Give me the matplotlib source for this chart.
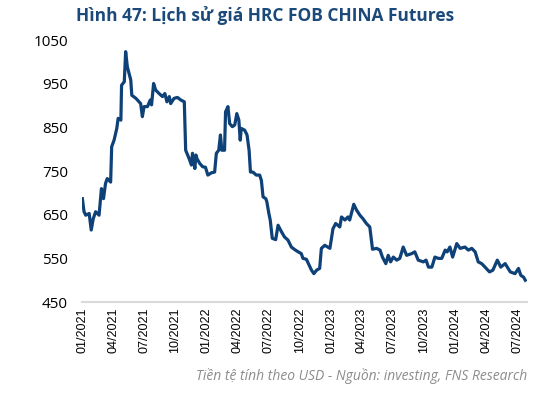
import pandas as pd
import matplotlib
matplotlib.use('Agg')
import matplotlib.pyplot as plt
import matplotlib.dates as mdates

# values (USD)
dates = [
    '2021-01-01', '2021-01-06', '2021-01-11', '2021-01-21', '2021-01-27', '2021-02-02',
    '2021-02-09', '2021-02-19', '2021-02-26', '2021-03-04', '2021-03-10', '2021-03-15',
    '2021-03-25', '2021-03-28', '2021-04-04', '2021-04-12', '2021-04-16', '2021-04-24',
    '2021-04-26', '2021-05-04', '2021-05-08', '2021-05-13', '2021-05-18', '2021-05-23',
    '2021-05-26', '2021-06-07', '2021-06-21', '2021-06-26', '2021-07-01', '2021-07-11',
    '2021-07-19', '2021-07-23', '2021-07-29', '2021-08-04', '2021-08-14', '2021-08-24',
    '2021-08-31', '2021-09-06', '2021-09-13', '2021-09-17', '2021-09-27', '2021-10-07',
    '2021-10-17', '2021-10-27', '2021-10-31', '2021-11-10', '2021-11-17', '2021-11-20',
    '2021-11-27', '2021-11-30', '2021-12-03', '2021-12-11', '2021-12-20', '2021-12-28',
    '2022-01-04', '2022-01-14', '2022-01-24', '2022-01-29', '2022-02-05', '2022-02-10',
    '2022-02-14', '2022-02-22', '2022-02-25', '2022-03-04', '2022-03-09', '2022-03-17',
    '2022-03-24', '2022-03-30', '2022-04-05', '2022-04-09', '2022-04-12', '2022-04-22',
    '2022-04-29', '2022-05-05', '2022-05-09', '2022-05-16', '2022-05-26', '2022-06-05',
    '2022-06-10', '2022-06-15', '2022-06-23', '2022-06-26', '2022-07-02', '2022-07-06',
    '2022-07-12', '2022-07-22', '2022-07-29', '2022-08-08', '2022-08-17', '2022-08-27',
    '2022-09-06', '2022-09-16', '2022-09-26', '2022-10-05', '2022-10-10', '2022-10-20',
    '2022-11-04', '2022-11-11', '2022-11-19', '2022-11-28', '2022-12-03', '2022-12-13',
    '2022-12-28', '2023-01-06', '2023-01-14', '2023-01-26', '2023-01-31', '2023-02-10',
    '2023-02-19', '2023-02-24', '2023-03-08', '2023-03-16', '2023-03-26', '2023-04-04',
    '2023-04-14', '2023-04-24', '2023-05-02', '2023-05-14', '2023-05-24', '2023-05-31',
    '2023-06-10', '2023-06-17', '2023-06-24', '2023-07-02', '2023-07-12', '2023-07-21',
    '2023-07-31', '2023-08-10', '2023-08-25', '2023-09-03', '2023-09-13', '2023-09-28',
    '2023-10-06', '2023-10-13', '2023-10-23', '2023-11-01', '2023-11-11', '2023-11-21',
    '2023-12-01', '2023-12-07', '2023-12-15', '2023-12-23', '2024-01-04', '2024-01-14',
    '2024-01-28', '2024-02-07', '2024-02-17', '2024-02-27', '2024-03-07', '2024-03-17',
    '2024-03-27', '2024-04-09', '2024-04-19', '2024-05-02', '2024-05-12', '2024-05-25',
    '2024-06-09', '2024-06-23', '2024-07-03', '2024-07-10', '2024-07-18', '2024-07-23',
]
prices = [
    687, 657, 649, 653, 615, 641,
    657, 649, 710, 687, 722, 733,
    725, 806, 821, 848, 871, 867,
    947, 955, 1024, 989, 974, 959,
    924, 917, 905, 875, 898, 898,
    913, 902, 951, 936, 928, 921,
    928, 909, 921, 905, 917, 919,
    913, 909, 798, 779, 764, 791,
    756, 787, 779, 768, 760, 759,
    741, 746, 748, 791, 798, 833,
    798, 798, 886, 898, 859, 852,
    856, 882, 867, 821, 848, 844,
    833, 798, 748, 748, 741, 741,
    729, 691, 687, 680, 653, 638,
    596, 593, 626, 611, 599, 592,
    576, 570, 565, 561, 550, 548,
    523, 515, 523, 527, 573, 580,
    573, 618, 630, 622, 645, 638,
    645, 638, 674, 661, 649, 641,
    630, 622, 571, 573, 569, 553,
    538, 557, 542, 553, 546, 550,
    576, 557, 561, 565, 546, 542,
    546, 530, 530, 553, 550, 550,
    569, 565, 576, 553, 584, 573,
    576, 569, 573, 565, 542, 538,
    530, 519, 523, 546, 530, 538,
    519, 515, 527, 511, 507, 500,
]
y_ticks = [450, 550, 650, 750, 850, 950, 1050]

title = 'Hình 47: Lịch sử giá HRC FOB CHINA Futures'
source = 'Tiền tệ tính theo USD - Nguồn: investing, FNS Research'

x = pd.to_datetime(dates)

fig = plt.figure(figsize=(5.42, 3.98), dpi=100)
ax = fig.add_axes([0.1513, 0.2412, 0.8210, 0.6575])
ax.plot(x, prices, color='#0E4178', lw=2.3, solid_joinstyle='round')

ax.set_ylim(450, 1050)
ax.set_yticks(y_ticks)
ax.set_xlim(pd.Timestamp('2020-12-31'), pd.Timestamp('2024-07-28'))
ax.xaxis.set_major_locator(mdates.MonthLocator(bymonth=[1, 4, 7, 10]))
ax.xaxis.set_major_formatter(mdates.DateFormatter('%m/%Y'))

for s in ['top', 'right', 'left']:
    ax.spines[s].set_visible(False)
ax.spines['bottom'].set_color('#D9D9D9')
ax.spines['bottom'].set_linewidth(1.5)
ax.tick_params(length=0)
ax.tick_params(axis='y', pad=10)
ax.tick_params(axis='x', pad=4)
for lab in ax.get_yticklabels():
    lab.set_fontfamily('Open Sans')
    lab.set_fontsize(11)
for lab in ax.get_xticklabels():
    lab.set_fontfamily('Liberation Sans')
    lab.set_fontsize(9)
    lab.set_rotation(90)

fig.text(0.489, 0.962, title, ha='center', va='center', fontsize=12.5,
         fontweight='bold', family='Open Sans', color='#1B4A7A')
fig.text(0.972, 0.055, source, ha='right', va='center', fontsize=10,
         style='italic', family='Open Sans', color='#8C8C8C')

fig.savefig('out.png', dpi=100)
